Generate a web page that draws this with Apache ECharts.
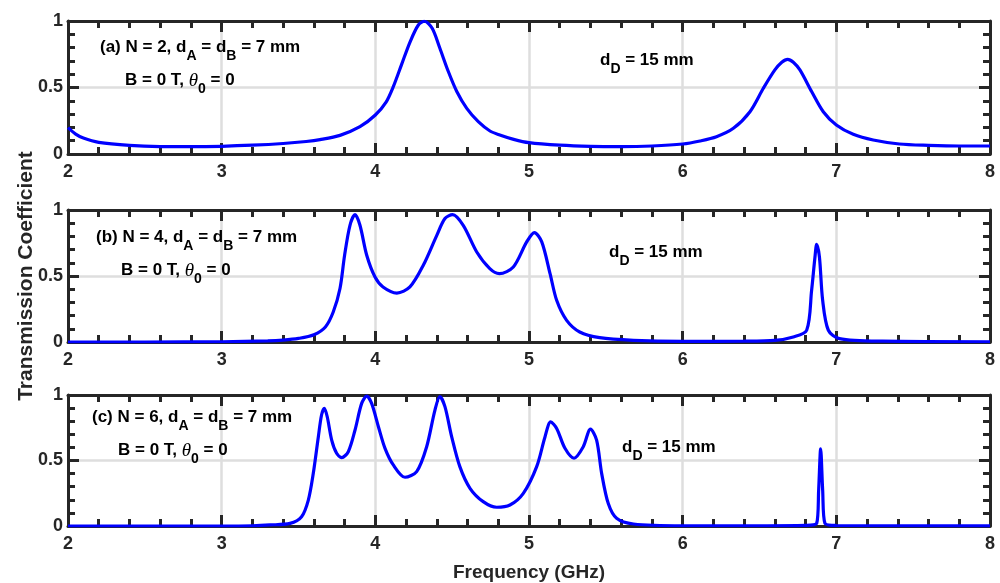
<!DOCTYPE html>
<html>
<head>
<meta charset="utf-8">
<script src="https://cdn.jsdelivr.net/npm/echarts@6/dist/echarts.min.js"></script>
<style>
html,body{margin:0;padding:0;background:#fff;}
#chart{width:1000px;height:583px;}
</style>
</head>
<body>
<div id="chart"></div>
<script>
// values (frequency in GHz, transmission 0..1)
var freqA = [2.0,2.05,2.1,2.2,2.4,2.6,2.8,3.0,3.2,3.4,3.55,3.64,3.77,3.9,4.0,4.07,4.117,4.17,4.225,4.28,4.32,4.37,4.42,4.475,4.53,4.595,4.67,4.746,4.81,4.9,5.0,5.2,5.4,5.6,5.8,6.0,6.113,6.22,6.33,6.438,6.525,6.6,6.645,6.683,6.72,6.763,6.84,6.915,7.0,7.11,7.24,7.41,7.6,7.8,8.0];
var transA = [0.198,0.15,0.12,0.088,0.065,0.056,0.055,0.058,0.066,0.079,0.094,0.108,0.14,0.205,0.293,0.39,0.506,0.67,0.84,0.97,0.998,0.945,0.795,0.62,0.47,0.343,0.243,0.173,0.143,0.11,0.085,0.066,0.057,0.055,0.06,0.075,0.098,0.13,0.193,0.318,0.494,0.632,0.69,0.712,0.69,0.632,0.468,0.318,0.218,0.148,0.105,0.075,0.065,0.06,0.06];

var freqB = [2.0,2.5,3.0,3.3,3.4,3.5,3.6,3.675,3.726,3.77,3.80,3.835,3.868,3.90,3.944,3.998,4.05,4.14,4.225,4.312,4.4,4.453,4.503,4.572,4.66,4.745,4.807,4.898,4.985,5.035,5.083,5.137,5.18,5.245,5.33,5.46,5.68,6.0,6.4,6.6,6.72,6.807,6.839,6.861,6.872,6.89,6.911,6.948,7.02,7.3,8.0];
var transB = [0.0,0.0,0.002,0.008,0.014,0.027,0.055,0.114,0.227,0.405,0.657,0.884,0.965,0.884,0.657,0.492,0.417,0.371,0.417,0.581,0.808,0.935,0.965,0.884,0.682,0.556,0.518,0.568,0.758,0.829,0.758,0.518,0.316,0.164,0.076,0.033,0.013,0.005,0.006,0.012,0.038,0.089,0.39,0.644,0.74,0.644,0.316,0.089,0.026,0.006,0.002];

var freqC = [2.0,2.5,3.0,3.2,3.314,3.445,3.52,3.564,3.596,3.629,3.65,3.668,3.687,3.716,3.748,3.781,3.824,3.868,3.911,3.944,3.976,4.02,4.063,4.117,4.193,4.269,4.334,4.388,4.42,4.453,4.497,4.55,4.616,4.702,4.79,4.876,4.963,5.05,5.104,5.141,5.18,5.234,5.293,5.353,5.40,5.44,5.473,5.516,5.57,5.68,6.0,6.5,6.8,6.872,6.885,6.898,6.911,6.926,7.0,8.0];
var transC = [0,0,0,0.002,0.008,0.02,0.071,0.198,0.40,0.68,0.847,0.898,0.834,0.656,0.555,0.522,0.567,0.733,0.936,0.992,0.936,0.758,0.593,0.466,0.372,0.415,0.605,0.885,0.987,0.911,0.68,0.453,0.288,0.186,0.143,0.16,0.249,0.453,0.68,0.795,0.745,0.593,0.517,0.605,0.74,0.656,0.40,0.171,0.059,0.015,0.002,0.002,0.005,0.02,0.275,0.588,0.275,0.02,0.004,0.001];

var panelLabels = ['(a) N = 2', '(b) N = 4', '(c) N = 6'];

var chart = echarts.init(document.getElementById('chart'));
var ink = '#262626';
var font = "'Liberation Sans', Arial, Helvetica, sans-serif";

function pairs(xs, ys){
	return xs.map(function(x, i){ return [x, ys[i]]; });
}
var curves = [pairs(freqA, transA), pairs(freqB, transB), pairs(freqC, transC)];

var boxes = [{top:21, height:133}, {top:210, height:132}, {top:395, height:131}];
var grid = [], xAxis = [], yAxis = [], series = [];

boxes.forEach(function(b, i){
	grid.push({left:68, right:10, top:b.top, height:b.height, containLabel:false, outerBoundsMode:'none'});
	['bottom','top'].forEach(function(pos){
		var main = pos === 'bottom';
		xAxis.push({
			type:'value', gridIndex:i, position:pos, min:2, max:8, interval:1,
			axisLine:{show:true, onZero:false, lineStyle:{color:ink, width:3}},
			axisTick:{show:true, inside:true, length:11, lineStyle:{color:ink, width:3}},
			minorTick:{show:true, splitNumber:5, length:7, lineStyle:{color:ink, width:3}},
			splitLine:{show:main, lineStyle:{color:'#dedede', width:2.5}},
			axisLabel:{show:main, color:ink, fontWeight:'bold', fontSize:18, fontFamily:font, margin:9},
			name:(i === 2 && main) ? 'Frequency (GHz)' : '',
			nameLocation:'middle', nameGap:37, nameMoveOverlap:false,
			nameTextStyle:{color:ink, fontWeight:'bold', fontSize:19, fontFamily:font}
		});
	});
	['left','right'].forEach(function(pos){
		var main = pos === 'left';
		yAxis.push({
			type:'value', gridIndex:i, position:pos, min:0, max:1, interval:0.5,
			axisLine:{show:true, onZero:false, lineStyle:{color:ink, width:3}},
			axisTick:{show:true, inside:true, length:11, lineStyle:{color:ink, width:3}},
			minorTick:{show:true, splitNumber:5, length:7, lineStyle:{color:ink, width:3}},
			splitLine:{show:main, lineStyle:{color:'#dedede', width:2.5}},
			axisLabel:{show:main, color:ink, fontWeight:'bold', fontSize:18, fontFamily:font, margin:5},
			name:(i === 1 && main) ? 'Transmission Coefficient' : '',
			nameLocation:'middle', nameRotate:90, nameGap:31, nameMoveOverlap:false,
			nameTextStyle:{color:ink, fontWeight:'bold', fontSize:21, fontFamily:font}
		});
	});
	series.push({
		type:'line', xAxisIndex:i*2, yAxisIndex:i*2, data:curves[i],
		showSymbol:false, smooth:0.3,
		lineStyle:{color:'#0000ff', width:3.2}, z:5
	});
});

var rich = {
	n:{fill:'#000', fontSize:17, fontWeight:'bold', fontFamily:font, lineHeight:20},
	s:{fill:'#000', fontSize:14, fontWeight:'bold', fontFamily:font, lineHeight:14, padding:[17,0,0,0]},
	t:{fill:'#000', fontSize:19, fontStyle:'italic', fontFamily:"'Liberation Serif', 'DejaVu Serif', serif", lineHeight:20}
};
var notes = [
	{left:100, top:32, text:'{n|' + panelLabels[0] + ', d}{s|A}{n| = d}{s|B}{n| = 7 mm}'},
	{left:125, top:65, text:'{n|B = 0 T, }{t|θ}{s|0}{n| = 0}'},
	{left:600, top:45, text:'{n|d}{s|D}{n| = 15 mm}'},
	{left:96, top:222, text:'{n|' + panelLabels[1] + ', d}{s|A}{n| = d}{s|B}{n| = 7 mm}'},
	{left:121, top:255, text:'{n|B = 0 T, }{t|θ}{s|0}{n| = 0}'},
	{left:609, top:237, text:'{n|d}{s|D}{n| = 15 mm}'},
	{left:92, top:402, text:'{n|' + panelLabels[2] + ', d}{s|A}{n| = d}{s|B}{n| = 7 mm}'},
	{left:118, top:435, text:'{n|B = 0 T, }{t|θ}{s|0}{n| = 0}'},
	{left:622, top:432, text:'{n|d}{s|D}{n| = 15 mm}'}
];

chart.setOption({
	backgroundColor:'#fff',
	animation:false,
	grid:grid,
	xAxis:xAxis,
	yAxis:yAxis,
	series:series,
	graphic:notes.map(function(t){
		return {type:'text', left:t.left, top:t.top, z:100, style:{text:t.text, rich:rich}};
	})
});
</script>
</body>
</html>
